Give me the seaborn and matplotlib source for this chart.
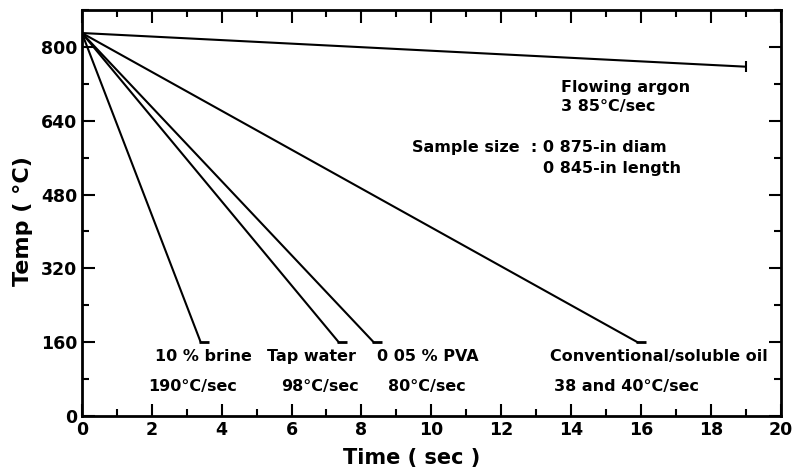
import numpy as np
import pandas as pd
import matplotlib
matplotlib.use("Agg")
import matplotlib.pyplot as plt
import seaborn as sns
from matplotlib.ticker import MultipleLocator

# cooling curves: start temp at t=0, end point of each line
media = ["10% brine", "Tap water", "0.05% PVA", "Conventional/soluble oil", "Flowing argon"]
start_temp = [830, 830, 830, 830, 830]
end_time = [3.4, 7.35, 8.35, 15.9, 19.0]
end_temp = [160, 160, 160, 160, 757]

# labels under each curve
label_top = ["10 % brine", "Tap water", "0 05 % PVA", "Conventional/soluble oil"]
label_bot = ["190°C/sec", "98°C/sec", "80°C/sec", "38 and 40°C/sec"]
label_x_top = [2.1, 5.3, 8.45, 13.4]
label_x_bot = [1.9, 5.7, 8.75, 13.5]

rows = []
for m, t0, te, Te in zip(media, start_temp, end_time, end_temp):
    rows.append({"medium": m, "time": 0.0, "temp": t0})
    rows.append({"medium": m, "time": te, "temp": Te})
df = pd.DataFrame(rows)

sns.set_style("ticks")
plt.rcParams["font.family"] = ["DejaVu Sans"]
plt.rcParams["text.color"] = "black"

fig = plt.figure(figsize=(7.95, 4.73), dpi=100)
ax = fig.add_axes([0.103, 0.1205, 0.879, 0.8585])

sns.lineplot(data=df, x="time", y="temp", hue="medium", palette=["black"] * len(media),
             legend=False, linewidth=1.5, ax=ax, estimator=None, sort=False)

# end caps
et = np.array(end_time)
Te = np.array(end_temp)
ax.hlines(Te[:4], et[:4] - 0.05, et[:4] + 0.25, color="black", linewidth=2)
ax.vlines(et[4], Te[4] - 12, Te[4] + 12, color="black", linewidth=1.5)

fs = 11.5
for x, s in zip(label_x_top, label_top):
    ax.text(x, 128, s, fontsize=fs, fontweight="bold", va="center", ha="left")
for x, s in zip(label_x_bot, label_bot):
    ax.text(x, 65, s, fontsize=fs, fontweight="bold", va="center", ha="left")

ax.text(13.7, 711, "Flowing argon", fontsize=fs, fontweight="bold", va="center")
ax.text(13.7, 670, "3 85°C/sec", fontsize=fs, fontweight="bold", va="center")
ax.text(9.46, 582, "Sample size  : 0 875-in diam", fontsize=fs, fontweight="bold", va="center")
ax.text(13.2, 536, "0 845-in length", fontsize=fs, fontweight="bold", va="center")

ax.set_xlim(0, 20)
ax.set_ylim(0, 880)
ax.xaxis.set_major_locator(MultipleLocator(2))
ax.xaxis.set_minor_locator(MultipleLocator(1))
ax.yaxis.set_major_locator(MultipleLocator(160))
ax.yaxis.set_minor_locator(MultipleLocator(80))
ax.tick_params(which="both", direction="in", top=True, right=True, width=1.5,
               labelsize=12.5, colors="black")
ax.tick_params(which="major", length=9)
ax.tick_params(which="minor", length=5)
for lab in ax.get_xticklabels() + ax.get_yticklabels():
    lab.set_fontweight("bold")
for sp in ax.spines.values():
    sp.set_linewidth(2)
    sp.set_color("black")

ax.set_xlabel("Time ( sec )", fontsize=15, fontweight="bold", color="black")
ax.set_ylabel("Temp ( °C)", fontsize=16, fontweight="bold", color="black")
ax.xaxis.set_label_coords(0.472, -0.078)
ax.yaxis.set_label_coords(-0.07, 0.48)

fig.savefig("out.png", dpi=100)
